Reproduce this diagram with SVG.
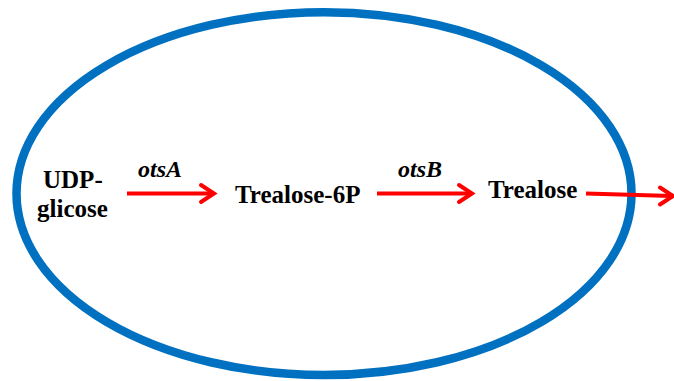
<svg xmlns="http://www.w3.org/2000/svg" width="674" height="381" viewBox="0 0 674 381">
<style>
.lbl{font-family:"Liberation Serif","Times New Roman",serif;font-weight:bold;font-size:25px;fill:#000}
.gene{font-family:"Liberation Serif","Times New Roman",serif;font-weight:bold;font-style:italic;font-size:24px;fill:#000}
.arr{stroke:#FF0000;stroke-width:4;fill:none}
.head{stroke:#FF0000;stroke-width:4;fill:none;stroke-linecap:round;stroke-linejoin:miter}
</style>
<rect width="674" height="381" fill="#fff"/>
<g id="cell">
<ellipse cx="324" cy="193.6" rx="307.5" ry="181.4" fill="none" stroke="#0070C0" stroke-width="8.5"/>
</g>
<g id="connectors">
<line class="arr" x1="127" y1="193.5" x2="213" y2="193.5"/>
<polyline class="head" points="201,185 214,193.5 201,202"/>
<line class="arr" x1="377" y1="193.5" x2="471" y2="193.5"/>
<polyline class="head" points="459,185 472,193.5 459,202"/>
<line class="arr" x1="586" y1="193.5" x2="672" y2="196"/>
<polyline class="head" points="660,187.5 673,196 660,204.5"/>
</g>
<g id="udp"><text class="lbl" x="43" y="188">UDP-</text><text class="lbl" x="37" y="217">glicose</text></g>
<g id="otsA"><text class="gene" x="138" y="177">otsA</text></g>
<g id="t6p"><text class="lbl" x="235" y="203">Trealose-6P</text></g>
<g id="otsB"><text class="gene" x="398" y="177">otsB</text></g>
<g id="trealose"><text class="lbl" x="488" y="198">Trealose</text></g>
</svg>
